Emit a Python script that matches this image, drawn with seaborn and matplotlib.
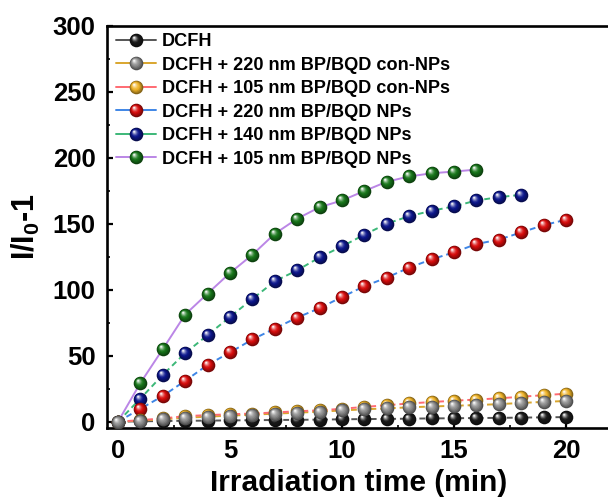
import numpy as np
import pandas as pd
import matplotlib
matplotlib.use("Agg")
import matplotlib.pyplot as plt
import matplotlib.colors as mcolors
import seaborn as sns
from matplotlib.path import Path
from matplotlib.lines import Line2D
from matplotlib.legend_handler import HandlerTuple
from matplotlib.ticker import MultipleLocator

# ---- data -------------------------------------------------------------
time_20 = list(range(0, 21))
time_18 = list(range(0, 19))
time_16 = list(range(0, 17))

dcfh = [0, 0.3, 0.5, 0.7, 0.8, 1.0, 1.1, 1.3, 1.4, 1.6, 1.8,
        2.0, 2.1, 2.3, 2.5, 2.6, 2.8, 2.9, 3.1, 3.3, 3.5]
con_220 = [0, 0.8, 1.8, 3.0, 3.8, 4.6, 5.3, 6.1, 6.8, 7.6, 8.5,
           9.4, 10.1, 10.9, 11.5, 12.1, 12.6, 13.3, 14.2, 15.0, 15.7]
con_105 = [0, 1.2, 2.5, 4.2, 5.0, 5.6, 6.2, 7.0, 7.9, 8.6, 9.8,
           11.2, 12.5, 13.8, 14.9, 15.9, 16.8, 17.7, 18.9, 20.1, 21.2]
nps_220 = [0, 9.8, 19.5, 31.0, 43.0, 52.5, 62.3, 70.6, 78.9, 86.0, 94.5,
           102.6, 109.2, 116.7, 123.0, 128.3, 134.6, 137.9, 143.4, 148.9, 153.0]
nps_140 = [0, 17.5, 35.5, 52.0, 65.6, 79.4, 93.0, 106.4, 114.7, 124.5, 132.8,
           141.7, 150.0, 155.7, 159.8, 163.1, 167.6, 170.1, 171.9]
nps_105 = [0, 29.3, 55.0, 81.2, 97.1, 112.7, 126.5, 142.4, 153.8, 162.5, 167.6,
           174.8, 181.8, 185.8, 188.2, 189.5, 191.0]

labels = ["DCFH",
          "DCFH + 220 nm BP/BQD con-NPs",
          "DCFH + 105 nm BP/BQD con-NPs",
          "DCFH + 220 nm BP/BQD NPs",
          "DCFH + 140 nm BP/BQD NPs",
          "DCFH + 105 nm BP/BQD NPs"]

x_ticks = [0, 5, 10, 15, 20]
y_ticks = [0, 50, 100, 150, 200, 250, 300]

# ---- style ------------------------------------------------------------
sns.set_theme(style="ticks")
plt.rcParams["font.family"] = ["Liberation Sans", "DejaVu Sans"]
plt.rcParams["font.weight"] = "bold"
plt.rcParams["text.color"] = "black"
plt.rcParams["axes.labelcolor"] = "black"
plt.rcParams["mathtext.fontset"] = "custom"
plt.rcParams["mathtext.rm"] = "Liberation Sans:bold"
plt.rcParams["mathtext.bf"] = "Liberation Sans:bold"
plt.rcParams["mathtext.it"] = "Liberation Sans:bold"

series = [
    # (x, y, ball colour, line colour, line style, zorder)
    (time_20, dcfh,    "#1a1a1a", "#555555", (0, (3, 2)), 7),
    (time_20, con_220, "#8e8e8e", "#d9a62e", (0, (3, 2)), 8),
    (time_20, con_105, "#f0b428", "#ff6a72", (0, (3, 2)), 6),
    (time_20, nps_220, "#d80c0c", "#3f86e6", (0, (3, 2)), 5),
    (time_18, nps_140, "#0c168c", "#3cb878", (0, (3, 2)), 4),
    (time_16, nps_105, "#17761a", "#bb86e6", "-", 3),
]


def shifted_circle(cx, cy, r):
    """Circle marker offset inside a fixed [-1, 1] box so markers keep position."""
    circ = Path.circle((cx, cy), r)
    verts = np.concatenate([[[-1, -1], [1, 1]], circ.vertices])
    codes = np.concatenate([[Path.MOVETO, Path.MOVETO], circ.codes])
    return Path(verts, codes)


def mix(c1, c2, t):
    a = np.array(mcolors.to_rgb(c1))
    b = np.array(mcolors.to_rgb(c2))
    return tuple(a + (b - a) * t)


N_LAYERS = 8
MS = 9.8


def ball_layers(color):
    base = mcolors.to_rgb(color)
    dark = mix(color, "black", 0.45)
    out = []
    for i in range(N_LAYERS):
        t = i / (N_LAYERS - 1)
        r = 1.0 - 0.86 * t
        cx, cy = -0.34 * t, 0.40 * t
        if t < 0.45:
            col = mix(dark, base, t / 0.45)
        else:
            col = mix(base, "white", ((t - 0.45) / 0.55) ** 1.4 * 0.92)
        out.append((shifted_circle(cx, cy, r), col))
    return out


fig = plt.figure(figsize=(6.08, 4.97), dpi=100)
ax = fig.add_axes([106.8 / 608, (497 - 428.3) / 497, 504 / 608, 402.6 / 497])

handles = []
for (xs, ys, bcol, lcol, ls, z), lab in zip(series, labels):
    df = pd.DataFrame({"time": xs, "value": ys})
    sns.lineplot(data=df, x="time", y="value", ax=ax, color=lcol,
                 linestyle=ls, linewidth=1.4, errorbar=None, sort=False,
                 legend=False, zorder=2)
    parts = [Line2D([], [], color=lcol, linestyle="-", linewidth=1.4)]
    for path, col in ball_layers(bcol):
        ln, = ax.plot(xs, ys, linestyle="none", marker=path, markersize=MS,
                      markerfacecolor=col, markeredgewidth=0, zorder=z)
        parts.append(ln)
    handles.append(tuple(parts))

ax.set_xlim(-0.5, 22)
ax.set_ylim(-5, 300)
ax.set_xticks(x_ticks)
ax.set_yticks(y_ticks)
ax.xaxis.set_minor_locator(MultipleLocator(2.5))
ax.yaxis.set_minor_locator(MultipleLocator(25))

for sp in ax.spines.values():
    sp.set_linewidth(1.9)
    sp.set_color("black")
ax.tick_params(axis="both", which="major", direction="in", length=4.5,
               width=1.6, labelsize=18.5, pad=8, colors="black")
ax.tick_params(axis="both", which="minor", direction="in", length=2.5,
               width=1.4)
for lbl in ax.get_xticklabels() + ax.get_yticklabels():
    lbl.set_fontweight("bold")

ax.set_xlabel("Irradiation time (min)", fontsize=21.5, fontweight="bold",
              labelpad=4)
ax.set_ylabel(r"I/I$_{0}$-1", fontsize=22, fontweight="bold", labelpad=8)

leg = ax.legend(handles, labels, handler_map={tuple: HandlerTuple(ndivide=1)},
                loc="upper left", bbox_to_anchor=(116 / 608, 1 - 33 / 497),
                bbox_transform=fig.transFigure, frameon=False,
                prop={"weight": "bold", "size": 13.1},
                handlelength=2.2, handletextpad=0.33, labelspacing=0.36,
                borderpad=0, borderaxespad=0)

fig.savefig("out.png", dpi=100)
